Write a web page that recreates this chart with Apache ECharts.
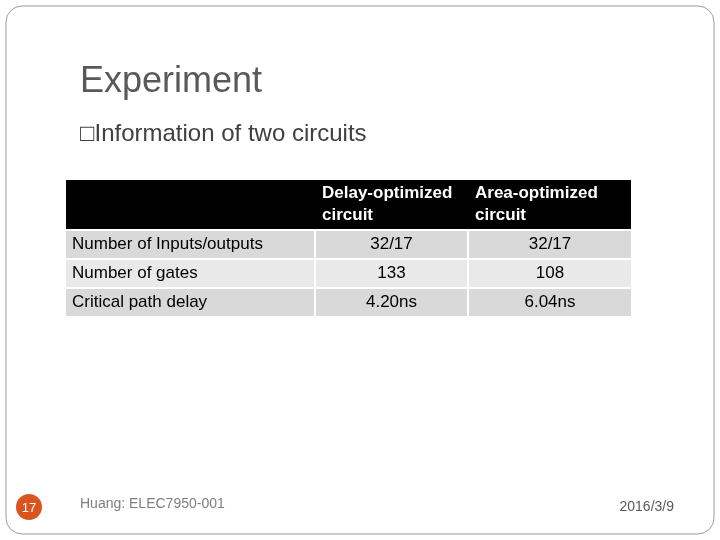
<!DOCTYPE html>
<html><head><meta charset="utf-8">
<script src="https://cdn.jsdelivr.net/npm/echarts@6/dist/echarts.min.js"></script>
<style>html,body{margin:0;padding:0;background:#fff}#c{width:720px;height:540px}</style>
</head><body><div id="c"></div>
<script>
const headers = ["", "Delay-optimized\ncircuit", "Area-optimized\ncircuit"];
const rowLabels = ["Number of Inputs/outputs", "Number of gates", "Critical path delay"];
const delayValues = ["32/17", "133", "4.20ns"];
const areaValues = ["32/17", "108", "6.04ns"];
const colX = [66, 316, 469], colW = [248, 151, 162];
const rowY = [231, 260, 289], rowH = 27;
const rowFill = ["#d9d9d9", "#e9e9e9", "#d9d9d9"];
const F = "Liberation Sans, Arial, sans-serif";
const g = [];
g.push({type:'rect',shape:{x:6,y:6,width:708,height:528,r:16},style:{fill:'#fff',stroke:'#9a9a9a',lineWidth:1}});
g.push({type:'text',x:80,y:82,style:{text:'Experiment',fill:'#595959',font:'36px '+F,textVerticalAlign:'middle'}});
g.push({type:'text',x:80,y:134,style:{text:'\u25A1Information of two circuits',fill:'#404040',font:'24px '+F,textVerticalAlign:'middle'}});
g.push({type:'rect',shape:{x:66,y:180,width:565,height:49},style:{fill:'#000'}});
for (let c=1;c<3;c++) g.push({type:'text',x:colX[c]+6,y:204,style:{text:headers[c],fill:'#fff',font:'bold 17px '+F,textVerticalAlign:'middle',lineHeight:22}});
for (let r=0;r<3;r++){
  const vals=[rowLabels[r],delayValues[r],areaValues[r]];
  for (let c=0;c<3;c++){
    g.push({type:'rect',shape:{x:colX[c],y:rowY[r],width:colW[c],height:rowH},style:{fill:rowFill[r]}});
    g.push({type:'text',x:c===0?colX[c]+6:colX[c]+colW[c]/2,y:rowY[r]+rowH/2,style:{text:vals[c],fill:'#000',font:'17px '+F,textAlign:c===0?'left':'center',textVerticalAlign:'middle'}});
  }
}
g.push({type:'circle',shape:{cx:29,cy:507,r:13},style:{fill:'#d9541e'}});
g.push({type:'text',x:29,y:508,style:{text:'17',fill:'#fff',font:'13px '+F,textAlign:'center',textVerticalAlign:'middle'}});
g.push({type:'text',x:80,y:504,style:{text:'Huang: ELEC7950-001',fill:'#7f7f7f',font:'14px '+F,textVerticalAlign:'middle'}});
g.push({type:'text',x:674,y:507,style:{text:'2016/3/9',fill:'#595959',font:'14px '+F,textAlign:'right',textVerticalAlign:'middle'}});
const chart = echarts.init(document.getElementById('c'));
chart.setOption({animation:false,graphic:g});
</script></body></html>
